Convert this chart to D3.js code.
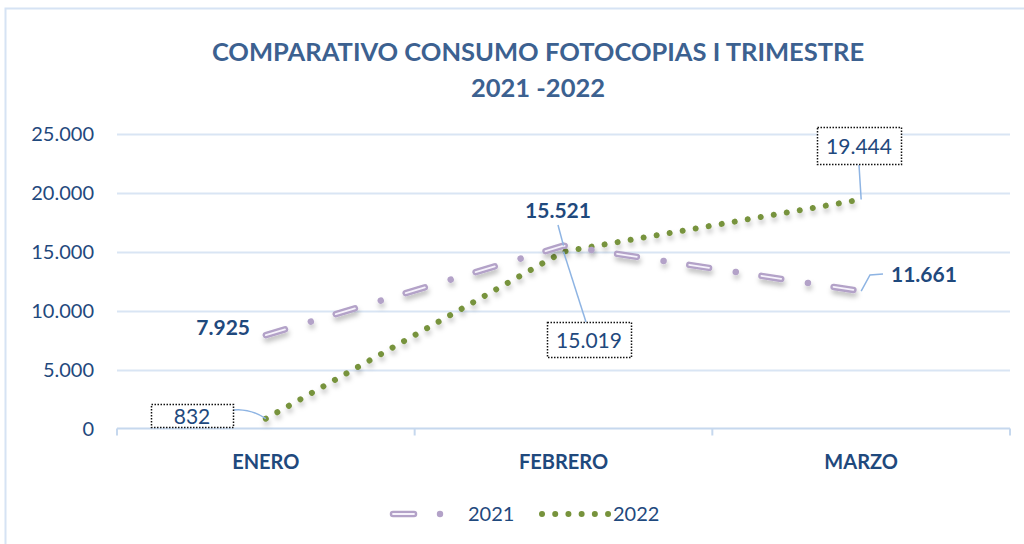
<!DOCTYPE html>
<html>
<head>
<meta charset="utf-8">
<script src="https://cdn.jsdelivr.net/npm/d3@7"></script>
<style>
  body { margin: 0; background: #fff; }
  svg { display: block; font-family: Lato, "Open Sans", sans-serif; }
</style>
</head>
<body>
<div id="chart"></div>
<script>
var months = ["ENERO", "FEBRERO", "MARZO"];
var values2021 = [7925, 15521, 11661];
var values2022 = [832, 15019, 19444];
var yTicks = [0, 5000, 10000, 15000, 20000, 25000];
var legendNames = ["2021", "2022"];

var width = 1024, height = 544;
var margin = {top: 134, right: 14, bottom: 116, left: 117};

var svg = d3.select("#chart").append("svg")
    .attr("width", width)
    .attr("height", height);

var defs = svg.append("defs");
var shadow = defs.append("filter").attr("id", "shadow")
    .attr("x", "-10%").attr("y", "-20%").attr("width", "130%").attr("height", "160%");
shadow.append("feDropShadow")
    .attr("dx", 1).attr("dy", 4).attr("stdDeviation", 2.5)
    .attr("flood-color", "#000").attr("flood-opacity", 0.25);

// outer chart border
svg.append("path")
    .attr("d", "M5.5," + height + "V8.5H" + width)
    .attr("fill", "none").attr("stroke", "#d6e3f4").attr("stroke-width", 2);

var x = d3.scaleBand().domain(months)
    .range([margin.left, width - margin.right]);
var y = d3.scaleLinear().domain([0, 25000])
    .range([height - margin.bottom + 0.5, margin.top]);

var fmt = function (v) { return d3.format(",")(v).replace(/,/g, "."); };
var cx = function (d, i) { return x(months[i]) + x.bandwidth() / 2; };

var textCol = "#1f497d";

// title
svg.append("text").attr("x", 538).attr("y", 61).attr("text-anchor", "middle")
    .attr("fill", "#3c6190").attr("font-weight", "bold").attr("font-size", 25.5)
    .text("COMPARATIVO CONSUMO FOTOCOPIAS I TRIMESTRE");
svg.append("text").attr("x", 538).attr("y", 97).attr("text-anchor", "middle")
    .attr("fill", "#3c6190").attr("font-weight", "bold").attr("font-size", 25.5)
    .text("2021 -2022");

// gridlines
svg.append("g").selectAll("line")
    .data(yTicks.filter(function (t) { return t > 0; }))
    .enter().append("line")
    .attr("x1", margin.left).attr("x2", width - margin.right)
    .attr("y1", function (d) { return Math.round(y(d)) + 0.5; })
    .attr("y2", function (d) { return Math.round(y(d)) + 0.5; })
    .attr("stroke", "#d9e5f4").attr("stroke-width", 2);

// y axis labels
svg.append("g").selectAll("text")
    .data(yTicks).enter().append("text")
    .attr("x", 94).attr("y", function (d) { return y(d) + 7; })
    .attr("text-anchor", "end").attr("fill", textCol).attr("font-size", 20)
    .text(fmt);

// x axis
var xAxis = svg.append("g")
    .attr("transform", "translate(0," + y(0) + ")")
    .call(d3.axisBottom(x).tickSize(0).tickFormat(""));
xAxis.select(".domain").remove();
xAxis.append("line").attr("x1", margin.left).attr("x2", width - margin.right)
    .attr("stroke", "#c6d8ee").attr("stroke-width", 2);
xAxis.selectAll(".sep")
    .data(months.concat(["end"])).enter().append("line")
    .attr("x1", function (d, i) { return i < months.length ? x(d) : x.range()[1]; })
    .attr("x2", function (d, i) { return i < months.length ? x(d) : x.range()[1]; })
    .attr("y1", 0).attr("y2", 7)
    .attr("stroke", "#c6d8ee").attr("stroke-width", 2);
svg.append("g").selectAll("text")
    .data(months).enter().append("text")
    .attr("x", function (d) { return x(d) + x.bandwidth() / 2; })
    .attr("y", 469).attr("text-anchor", "middle")
    .attr("fill", textCol).attr("font-weight", "bold").attr("font-size", 20)
    .text(function (d) { return d; });

var line = d3.line().x(cx).y(function (d) { return y(d); });

// 2022 dotted line
svg.append("path").datum(values2022)
    .attr("d", line).attr("fill", "none")
    .attr("stroke", "#77933c").attr("stroke-width", 6)
    .attr("stroke-linecap", "round").attr("stroke-dasharray", "0.01 13.2")
    .attr("filter", "url(#shadow)");

// 2021 dash-dot line with hollow dashes
var g21 = svg.append("g").attr("filter", "url(#shadow)");
g21.append("path").datum(values2021)
    .attr("d", line).attr("fill", "none")
    .attr("stroke", "#b3a2c8").attr("stroke-width", 6.5)
    .attr("stroke-linecap", "round").attr("stroke-dasharray", "20 27 0.01 26");
g21.append("path").datum(values2021)
    .attr("d", line).attr("fill", "none")
    .attr("stroke", "#f6f2fb").attr("stroke-width", 1.8)
    .attr("stroke-linecap", "round").attr("stroke-dasharray", "20 53");

// leader lines
var leaderCol = "#8eb4e3";
function leader(points) {
    svg.append("path").attr("d", "M" + points.join("L"))
        .attr("fill", "none").attr("stroke", leaderCol).attr("stroke-width", 1.5);
}
leader([[558, 225], [cx(0, 1), y(values2021[1])]]);
leader([[586, 322], [cx(0, 1), y(values2022[1])]]);
leader([[883, 274], [870, 275], [cx(0, 2), y(values2021[2])]]);
leader([[859, 165], [cx(0, 2), y(values2022[2])]]);
svg.append("path")
    .attr("d", "M233,410Q250,408 " + cx(0, 0) + "," + y(values2022[0]))
    .attr("fill", "none").attr("stroke", leaderCol).attr("stroke-width", 1.5);

// 2021 labels (bold)
var labels21 = [[250, 335, "end"], [558, 218, "middle"], [891, 282, "start"]];
svg.append("g").selectAll("text")
    .data(values2021).enter().append("text")
    .attr("x", function (d, i) { return labels21[i][0]; })
    .attr("y", function (d, i) { return labels21[i][1]; })
    .attr("text-anchor", function (d, i) { return labels21[i][2]; })
    .attr("fill", textCol).attr("font-weight", "bold").attr("font-size", 21)
    .text(fmt);

// 2022 labels in dotted boxes
var boxes22 = [[151, 404, 82, 23], [547, 322, 84, 35], [817, 127, 84, 37]];
var bl = svg.append("g").selectAll("g")
    .data(values2022).enter().append("g");
bl.append("rect")
    .attr("x", function (d, i) { return boxes22[i][0] + 0.5; })
    .attr("y", function (d, i) { return boxes22[i][1] + 0.5; })
    .attr("width", function (d, i) { return boxes22[i][2]; })
    .attr("height", function (d, i) { return boxes22[i][3]; })
    .attr("fill", "#fff").attr("stroke", "#111").attr("stroke-width", 1.5)
    .attr("stroke-dasharray", "1.5 1.5");
bl.append("text")
    .attr("x", function (d, i) { return boxes22[i][0] + boxes22[i][2] / 2; })
    .attr("y", function (d, i) { return boxes22[i][1] + boxes22[i][3] / 2 + 8; })
    .attr("text-anchor", "middle").attr("fill", textCol).attr("font-size", 21)
    .text(fmt);

// legend
var lg = svg.append("g").attr("transform", "translate(0,514)");
lg.append("line").attr("x1", 393).attr("x2", 414)
    .attr("stroke", "#b3a2c8").attr("stroke-width", 6.5).attr("stroke-linecap", "round");
lg.append("line").attr("x1", 393).attr("x2", 414)
    .attr("stroke", "#f6f2fb").attr("stroke-width", 1.8).attr("stroke-linecap", "round");
lg.append("circle").attr("cx", 440).attr("cy", 0).attr("r", 3.2).attr("fill", "#b3a2c8");
lg.append("text").attr("x", 468).attr("y", 7).attr("fill", textCol).attr("font-size", 20)
    .text(legendNames[0]);
lg.append("line").attr("x1", 542).attr("x2", 609)
    .attr("stroke", "#77933c").attr("stroke-width", 6)
    .attr("stroke-linecap", "round").attr("stroke-dasharray", "0.01 13.2");
lg.append("text").attr("x", 613).attr("y", 7).attr("fill", textCol).attr("font-size", 20)
    .text(legendNames[1]);
</script>
</body>
</html>
